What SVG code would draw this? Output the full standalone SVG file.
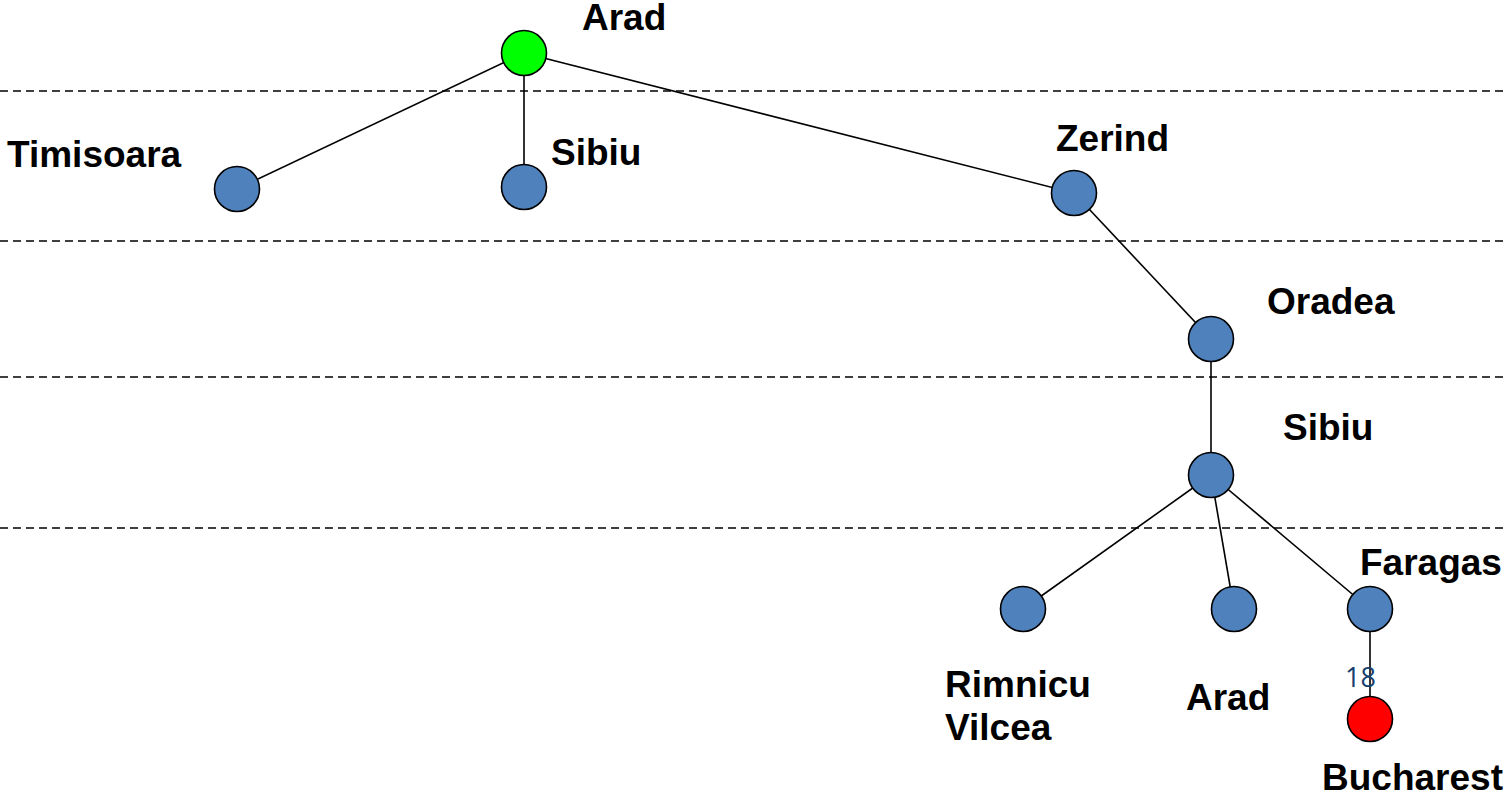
<svg xmlns="http://www.w3.org/2000/svg" width="1505" height="797" viewBox="0 0 1505 797">
  <style>
    .lvl { stroke: #000; stroke-width: 1.3; stroke-dasharray: 8 5; fill: none; }
    .edge { stroke: #000; stroke-width: 1.6; fill: none; }
    .node { fill: #4f81bd; stroke: #000; stroke-width: 1.6; }
    .start { fill: #00ff00; }
    .goal { fill: #ff0000; }
    .lbl { font-family: "Liberation Sans", Arial, sans-serif; font-weight: bold; font-size: 37px; fill: #000; }
    .cost { font-family: "Open Sans", "Liberation Sans", sans-serif; font-size: 27px; fill: #17406d; }
  </style>
  <rect width="1505" height="797" fill="#fff"/>

  <!-- depth separators -->
  <g id="levels">
    <line class="lvl" x1="0" y1="91" x2="1505" y2="91"/>
    <line class="lvl" x1="0" y1="241" x2="1505" y2="241"/>
    <line class="lvl" x1="0" y1="377" x2="1505" y2="377"/>
    <line class="lvl" x1="0" y1="528" x2="1505" y2="528"/>
  </g>

  <g id="connectors">
    <line class="edge" x1="524" y1="53" x2="237" y2="189"/>
    <line class="edge" x1="524" y1="53" x2="524" y2="187"/>
    <line class="edge" x1="524" y1="53" x2="1074" y2="193"/>
    <line class="edge" x1="1074" y1="193" x2="1211" y2="339"/>
    <line class="edge" x1="1211" y1="339" x2="1211" y2="475"/>
    <line class="edge" x1="1211" y1="475" x2="1023" y2="609"/>
    <line class="edge" x1="1211" y1="475" x2="1234" y2="609"/>
    <line class="edge" x1="1211" y1="475" x2="1370" y2="609"/>
    <line class="edge" x1="1370" y1="609" x2="1370" y2="719"/>
  </g>

  <g id="n-arad"><circle class="node start" cx="524" cy="53" r="22.5"/><text class="lbl" x="582" y="30">Arad</text></g>
  <g id="n-timisoara"><circle class="node" cx="237" cy="189" r="22.5"/><text class="lbl" x="7" y="167">Timisoara</text></g>
  <g id="n-sibiu"><circle class="node" cx="524" cy="187" r="22.5"/><text class="lbl" x="551" y="165">Sibiu</text></g>
  <g id="n-zerind"><circle class="node" cx="1074" cy="193" r="22.5"/><text class="lbl" x="1056" y="151">Zerind</text></g>
  <g id="n-oradea"><circle class="node" cx="1211" cy="339" r="22.5"/><text class="lbl" x="1267" y="314">Oradea</text></g>
  <g id="n-sibiu2"><circle class="node" cx="1211" cy="475" r="22.5"/><text class="lbl" x="1283" y="440">Sibiu</text></g>
  <g id="n-rimnicu"><circle class="node" cx="1023" cy="609" r="22.5"/><text class="lbl" x="945" y="697">Rimnicu</text><text class="lbl" x="945" y="740">Vilcea</text></g>
  <g id="n-arad2"><circle class="node" cx="1234" cy="609" r="22.5"/><text class="lbl" x="1186" y="710">Arad</text></g>
  <g id="n-faragas"><circle class="node" cx="1370" cy="609" r="22.5"/><text class="lbl" x="1360" y="575">Faragas</text></g>
  <g id="n-bucharest"><circle class="node goal" cx="1370" cy="719" r="22.5"/><text class="lbl" x="1322" y="790">Bucharest</text></g>
  <text class="cost" x="1345" y="687">18</text>
</svg>
